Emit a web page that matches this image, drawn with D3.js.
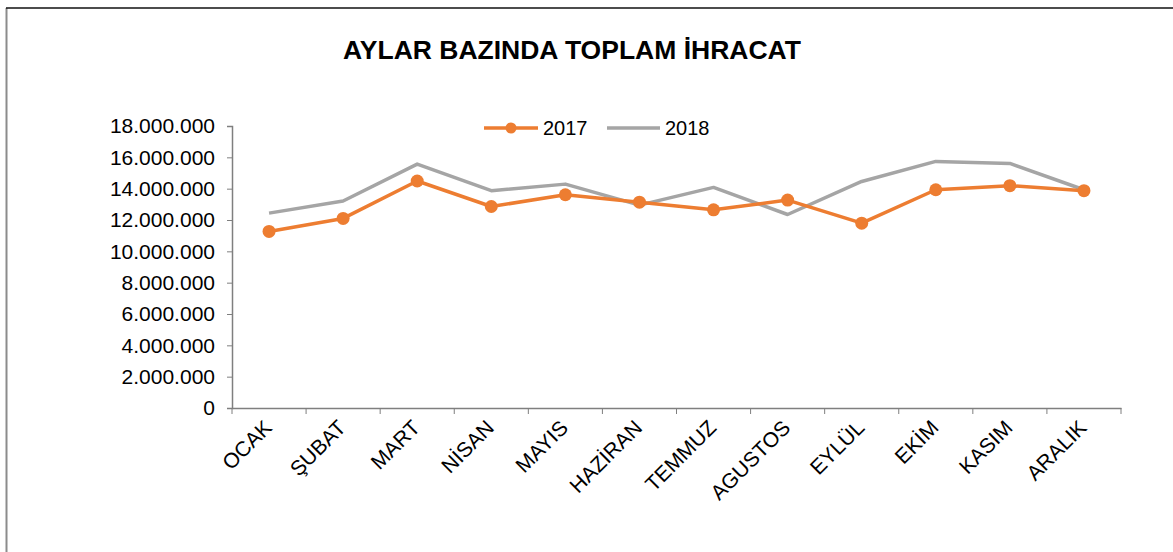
<!DOCTYPE html>
<html>
<head>
    <meta charset="UTF-8">
    <title>Aylar Bazinda Toplam Ihracat</title>
    <style>
        body { margin: 0; background: #fff; }
        svg text { font-family: 'Liberation Sans', Arial, sans-serif; }
    </style>
</head>
<body>
    <div id="app"></div>

    <script src="https://d3js.org/d3.v7.min.js"></script>
    <script>
        let months = ['OCAK', 'ŞUBAT', 'MART', 'NİSAN', 'MAYIS', 'HAZİRAN', 'TEMMUZ', 'AGUSTOS', 'EYLÜL', 'EKİM', 'KASIM', 'ARALIK']
        let values2017 = [11270000, 12100000, 14490000, 12860000, 13610000, 13140000, 12650000, 13270000, 11800000, 13930000, 14190000, 13870000]
        let values2018 = [12440000, 13210000, 15570000, 13870000, 14290000, 12950000, 14080000, 12350000, 14460000, 15740000, 15610000, 13930000]
        let yTicks = [0, 2000000, 4000000, 6000000, 8000000, 10000000, 12000000, 14000000, 16000000, 18000000]

        let W = 1173
        let H = 552
        let orange = '#ED7D31'
        let grey = '#A5A5A5'
        let fs = 21

        let svg = d3.select('#app').append('svg')
        .attr('width', W)
        .attr('height', H)

        // frame: grey left edge, dark top edge
        svg.append('line').attr('x1', 6.5).attr('x2', 6.5).attr('y1', 8).attr('y2', H)
        .attr('stroke', '#8c8c8c').attr('stroke-width', 2)
        svg.append('line').attr('x1', 6).attr('x2', W).attr('y1', 8).attr('y2', 8)
        .attr('stroke', '#111').attr('stroke-width', 1.5)

        svg.append('text')
        .attr('x', 572).attr('y', 59)
        .attr('text-anchor', 'middle')
        .attr('font-size', 26.5).attr('font-weight', 'bold')
        .text('AYLAR BAZINDA TOPLAM İHRACAT')

        let x = d3.scaleBand().domain(months).range([232, 1121])
        let y = d3.scaleLinear().domain([0, 18000000]).range([408, 126])

        let fmt = d => d3.format(',')(d).replace(/,/g, '.')

        let yAxis = svg.append('g')
        .attr('transform', 'translate(232,0)')
        .call(d3.axisLeft(y).tickValues(yTicks).tickFormat(fmt).tickSize(5).tickPadding(12))
        yAxis.selectAll('text').attr('font-size', fs).attr('fill', '#000')

        let xAxis = svg.append('g')
        .attr('transform', 'translate(0,408)')
        .call(d3.axisBottom(x).tickSize(0).tickFormat(''))
        // ticks at band boundaries
        xAxis.selectAll('.tick').remove()
        let edges = months.map(m => x(m)).concat([x.range()[1]])
        xAxis.selectAll('.edge').data(edges).enter()
        .append('line').attr('class', 'edge')
        .attr('x1', d => d).attr('x2', d => d)
        .attr('y1', 0).attr('y2', 6)
        .attr('stroke', '#7f7f7f')

        svg.selectAll('.domain').attr('stroke', '#7f7f7f').attr('stroke-width', 1.5)
        yAxis.selectAll('.tick line').attr('stroke', '#7f7f7f')

        svg.selectAll('.xlab').data(months).enter()
        .append('text').attr('class', 'xlab')
        .attr('transform', d => 'translate(' + (x(d) + x.bandwidth() / 2 + 4) + ',429) rotate(-45)')
        .attr('text-anchor', 'end')
        .attr('font-size', fs)
        .text(d => d)

        let line = d3.line()
        .x((d, i) => x(months[i]) + x.bandwidth() / 2)
        .y(d => y(d))

        svg.append('path').datum(values2018)
        .attr('d', line).attr('fill', 'none')
        .attr('stroke', grey).attr('stroke-width', 3.5)
        .attr('stroke-linejoin', 'round')

        svg.append('path').datum(values2017)
        .attr('d', line).attr('fill', 'none')
        .attr('stroke', orange).attr('stroke-width', 3.5)
        .attr('stroke-linejoin', 'round')

        svg.selectAll('.dot').data(values2017).enter()
        .append('circle').attr('class', 'dot')
        .attr('cx', (d, i) => x(months[i]) + x.bandwidth() / 2)
        .attr('cy', d => y(d))
        .attr('r', 6.5)
        .attr('fill', orange)

        // legend
        let lg = svg.append('g')
        lg.append('line').attr('x1', 484).attr('x2', 538).attr('y1', 128).attr('y2', 128)
        .attr('stroke', orange).attr('stroke-width', 3.5)
        lg.append('circle').attr('cx', 511).attr('cy', 128).attr('r', 5.5).attr('fill', orange)
        lg.append('text').attr('x', 543).attr('y', 135).attr('font-size', 20).text('2017')
        lg.append('line').attr('x1', 607).attr('x2', 660).attr('y1', 128).attr('y2', 128)
        .attr('stroke', grey).attr('stroke-width', 3.5)
        lg.append('text').attr('x', 665).attr('y', 135).attr('font-size', 20).text('2018')
    </script>
</body>
</html>
